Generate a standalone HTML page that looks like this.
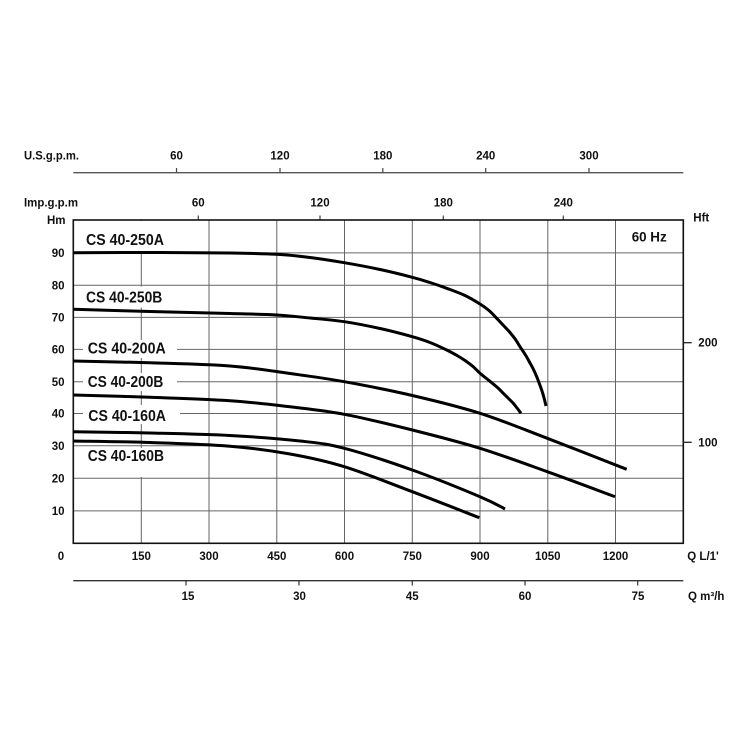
<!DOCTYPE html>
<html><head><meta charset="utf-8"><style>
html,body{margin:0;padding:0;background:#fff;}
svg{display:block;}
text{font-family:"Liberation Sans",sans-serif;font-weight:bold;fill:#111;}
</style></head><body>
<svg id="chart" width="750" height="750" viewBox="0 0 750 750" xmlns="http://www.w3.org/2000/svg">
<rect width="750" height="750" fill="#fff"/>
<!-- US gpm axis -->
<line x1="73.3" y1="172.7" x2="683.3" y2="172.7" stroke="#555" stroke-width="1.3"/>
<g stroke="#444" stroke-width="1.2">
<line x1="176.5" y1="168" x2="176.5" y2="172.7"/>
<line x1="280" y1="168" x2="280" y2="172.7"/>
<line x1="382.8" y1="168" x2="382.8" y2="172.7"/>
<line x1="485.7" y1="168" x2="485.7" y2="172.7"/>
<line x1="589" y1="168" x2="589" y2="172.7"/>
</g>
<g font-size="11.5" text-anchor="middle">
<text x="176.5" y="159.5">60</text><text x="280" y="159.5">120</text><text x="382.8" y="159.5">180</text><text x="485.7" y="159.5">240</text><text x="589" y="159.5">300</text>
</g>
<text x="24" y="159.5" font-size="11.5" textLength="55" lengthAdjust="spacingAndGlyphs">U.S.g.p.m.</text>
<!-- Imp gpm -->
<text x="24" y="206.7" font-size="11.5" textLength="54" lengthAdjust="spacingAndGlyphs">Imp.g.p.m</text>
<g font-size="11.5" text-anchor="middle">
<text x="198.3" y="206.7">60</text><text x="320" y="206.7">120</text><text x="443.3" y="206.7">180</text><text x="563.3" y="206.7">240</text>
</g>
<g stroke="#444" stroke-width="1.2">
<line x1="198.3" y1="215.5" x2="198.3" y2="220"/>
<line x1="320" y1="215.5" x2="320" y2="220"/>
<line x1="443.3" y1="215.5" x2="443.3" y2="220"/>
<line x1="563.3" y1="215.5" x2="563.3" y2="220"/>
</g>
<text x="47" y="224" font-size="11.5">Hm</text>
<text x="693.3" y="221.7" font-size="11.5">Hft</text>
<!-- grid -->
<g stroke="#666" stroke-width="1">
<line x1="141.3" y1="220" x2="141.3" y2="543.3"/>
<line x1="209" y1="220" x2="209" y2="543.3"/>
<line x1="276.8" y1="220" x2="276.8" y2="543.3"/>
<line x1="344.5" y1="220" x2="344.5" y2="543.3"/>
<line x1="412.3" y1="220" x2="412.3" y2="543.3"/>
<line x1="480" y1="220" x2="480" y2="543.3"/>
<line x1="547.8" y1="220" x2="547.8" y2="543.3"/>
<line x1="615.5" y1="220" x2="615.5" y2="543.3"/>
<line x1="73.3" y1="252.9" x2="683.3" y2="252.9"/>
<line x1="73.3" y1="285.3" x2="683.3" y2="285.3"/>
<line x1="73.3" y1="317.4" x2="683.3" y2="317.4"/>
<line x1="73.3" y1="349.4" x2="683.3" y2="349.4"/>
<line x1="73.3" y1="381.8" x2="683.3" y2="381.8"/>
<line x1="73.3" y1="413.5" x2="683.3" y2="413.5"/>
<line x1="73.3" y1="445.8" x2="683.3" y2="445.8"/>
<line x1="73.3" y1="478.3" x2="683.3" y2="478.3"/>
<line x1="73.3" y1="510.9" x2="683.3" y2="510.9"/>
</g>
<!-- label backgrounds -->
<g fill="#fff">
<rect x="78" y="221" width="122" height="30.5"/>
<rect x="78" y="286.5" width="122" height="21"/>
<rect x="83" y="340" width="94" height="18"/>
<rect x="83" y="373" width="94" height="18"/>
<rect x="83" y="405" width="97" height="19"/>
<rect x="78" y="448" width="110" height="29"/>
</g>
<!-- box -->
<rect x="73.3" y="220" width="610" height="323.3" fill="none" stroke="#111" stroke-width="1.6"/>
<!-- Hft ticks -->
<g stroke="#222" stroke-width="1.3">
<line x1="683.3" y1="342.7" x2="691.7" y2="342.7"/>
<line x1="683.3" y1="442.3" x2="691.7" y2="442.3"/>
</g>
<g font-size="11.5">
<text x="698.3" y="346.7">200</text><text x="698.3" y="446.7">100</text>
</g>
<text x="631.7" y="241.7" font-size="13.5" textLength="35" lengthAdjust="spacingAndGlyphs">60 Hz</text>
<!-- Y labels -->
<g font-size="11.5" text-anchor="end">
<text x="64.5" y="257">90</text><text x="64.5" y="289.3">80</text><text x="64.5" y="321.4">70</text><text x="64.5" y="353.4">60</text><text x="64.5" y="385.8">50</text><text x="64.5" y="417.5">40</text><text x="64.5" y="449.8">30</text><text x="64.5" y="482.3">20</text><text x="64.5" y="514.9">10</text>
</g>
<!-- series labels -->
<g font-size="15.5">
<text x="86" y="245" textLength="78" lengthAdjust="spacingAndGlyphs">CS 40-250A</text>
<text x="86" y="302.3" textLength="76.3" lengthAdjust="spacingAndGlyphs">CS 40-250B</text>
<text x="87.7" y="353.3" textLength="78" lengthAdjust="spacingAndGlyphs">CS 40-200A</text>
<text x="87.7" y="387" textLength="75.6" lengthAdjust="spacingAndGlyphs">CS 40-200B</text>
<text x="88.3" y="421" textLength="77.7" lengthAdjust="spacingAndGlyphs">CS 40-160A</text>
<text x="87.7" y="461" textLength="76.3" lengthAdjust="spacingAndGlyphs">CS 40-160B</text>
</g>
<!-- curves -->
<g id="curves" fill="none" stroke="#000" stroke-width="3" stroke-linejoin="round" stroke-linecap="butt">
<polyline points="73.3,252.7 160,252.5 230,253 276.7,254.3 310,257.5 344.3,262.7 380,269.5 412.3,277.3 430,282.5 446.7,288.3 465,295.5 480,304 489,310.5 496.7,318.3 504,326 510,332.5 515.5,339.5 520,346.7 525.5,355 530,363 533.5,369.5 536.7,376.7 539.5,384 542,391 544.2,398.5 546,406"/>
<polyline points="73.3,309.3 150,311.5 230,313.5 276.7,315 310,318 344.3,321.7 380,328.5 412.3,336.7 430,342.5 446.7,350 457,355.5 465,360.5 473,366.5 480,373.3 486.5,378.5 492,383 498,388 503.3,393.3 508.5,398.5 513,403 517,408 521,413.3"/>
<polyline points="73.3,361 150,362.8 230,366 290,373.5 344.3,381.7 412.3,395.5 480,413.3 547.3,438.3 626.7,469.3"/>
<polyline points="73.3,395 150,397.3 230,400.7 290,406.8 344.3,414.3 412.3,430 480,448.3 547.3,471.7 615,496.7"/>
<polyline points="73.3,431.7 150,433 230,435.5 300,441 344.3,448.3 412.3,470 480,496.7 505,509"/>
<polyline points="73.3,441 150,442.5 230,446.2 290,454 344.3,466.7 412.3,491.7 479.3,517.7"/>
</g>
<!-- bottom labels L/min -->
<g font-size="11.5" text-anchor="middle">
<text x="61" y="560">0</text>
<text x="141.3" y="560">150</text><text x="209" y="560">300</text><text x="276.8" y="560">450</text><text x="344.5" y="560">600</text><text x="412.3" y="560">750</text><text x="480" y="560">900</text><text x="547.8" y="560">1050</text><text x="615.5" y="560">1200</text>
</g>
<text x="687.3" y="560" font-size="11.5">Q L/1'</text>
<!-- m3/h axis -->
<line x1="73.3" y1="580.7" x2="683.3" y2="580.7" stroke="#333" stroke-width="1.3"/>
<g stroke="#333" stroke-width="1.2">
<line x1="186" y1="580.7" x2="186" y2="585.5"/>
<line x1="299" y1="580.7" x2="299" y2="585.5"/>
<line x1="412.3" y1="580.7" x2="412.3" y2="585.5"/>
<line x1="525" y1="580.7" x2="525" y2="585.5"/>
<line x1="637.7" y1="580.7" x2="637.7" y2="585.5"/>
</g>
<g font-size="11.5" text-anchor="middle">
<text x="188" y="600">15</text><text x="299.5" y="600">30</text><text x="412.3" y="600">45</text><text x="525" y="600">60</text><text x="638" y="600">75</text>
</g>
<text x="688" y="600" font-size="11.5">Q m³/h</text>
</svg>
<script>
(function(){
  try{
    var ns="http://www.w3.org/2000/svg";
    var g=document.getElementById("curves");
    var pls=g.querySelectorAll("polyline");
    for(var k=0;k<pls.length;k++){
      var pl=pls[k];
      var p=pl.getAttribute("points").trim().split(/\s+/).map(function(s){return s.split(",").map(Number);});
      var n=p.length;
      var d="M"+p[0][0]+","+p[0][1];
      for(var i=0;i<n-1;i++){
        var p0=p[i>0?i-1:i],p1=p[i],p2=p[i+1],p3=p[i+2<n?i+2:i+1];
        var c1x=p1[0]+(p2[0]-p0[0])/6,c1y=p1[1]+(p2[1]-p0[1])/6;
        var c2x=p2[0]-(p3[0]-p1[0])/6,c2y=p2[1]-(p3[1]-p1[1])/6;
        d+=" C"+c1x.toFixed(2)+","+c1y.toFixed(2)+" "+c2x.toFixed(2)+","+c2y.toFixed(2)+" "+p2[0]+","+p2[1];
      }
      var path=document.createElementNS(ns,"path");
      path.setAttribute("d",d);
      g.insertBefore(path,pl);
      g.removeChild(pl);
    }
  }catch(e){}
})();
</script>
</body></html>
